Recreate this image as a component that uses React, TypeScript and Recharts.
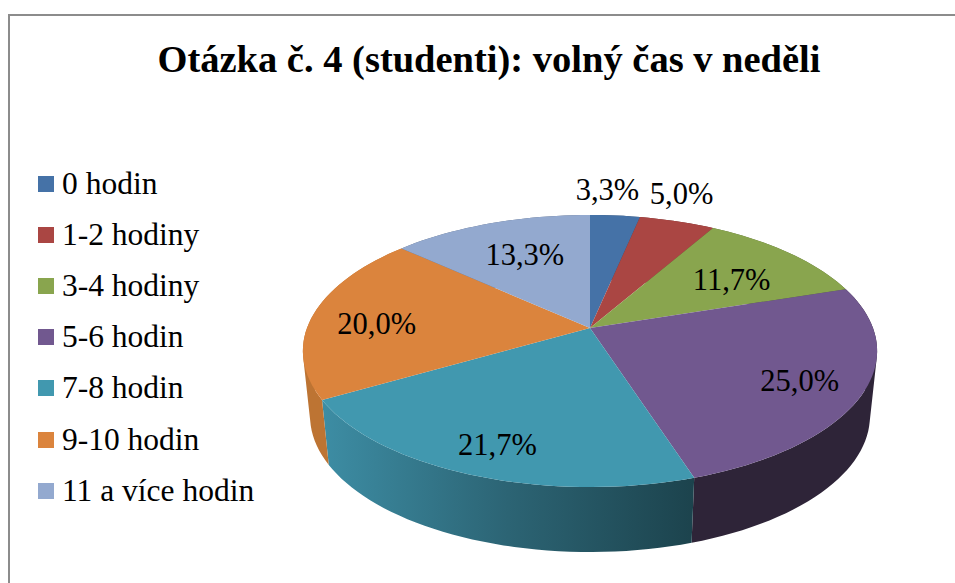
import { PieChart, Pie, Cell, Legend } from "recharts";

const categories = ["0 hodin", "1-2 hodiny", "3-4 hodiny", "5-6 hodin", "7-8 hodin", "9-10 hodin", "11 a více hodin"];
const shares = [3.3, 5.0, 11.7, 25.0, 21.7, 20.0, 13.3];
const topColors = ["#4572A7", "#AA4643", "#89A54E", "#71588F", "#4198AF", "#DB843D", "#93A9CF"];
const wallColors = ["#2f4a6b", "#6b2c2a", "#566832", "#2e2438", "url(#tealWall)", "url(#orangeWall)", "#5d6b83"];
// nudges from the default label spot, Excel places these by hand
const labelNudges = [[-2, -50], [24, -51], [-11, 10], [9, 5], [-6, 12], [-5, 6], [12, 8]];

const data = categories.map((name, i) => ({ name, value: shares[i] }));

const WIDTH = 955;
const HEIGHT = 583;
const LEGEND_WIDTH = 260; // recharts pushes the plot area right by this much
const CX = 590 - LEGEND_WIDTH;
const CY = 328;
const RADIUS = 283;

// the tilted disc in the reference has perspective, so project the circle
const TILT = 0.467;
const PERSPECTIVE = 0.169;
const DEPTH = 65;
const BASE_SCALE = 0.975;

const RAD = Math.PI / 180;

type Pt = { x: number; y: number };

const project = (cx: number, cy: number, r: number, angle: number, t = 1): Pt => {
  const u = Math.cos(angle * RAD) * t;
  const v = Math.sin(angle * RAD) * t;
  const w = 1 + PERSPECTIVE * v;
  return { x: cx + (r * u) / w, y: cy - (r * TILT * v) / w };
};

const rimPoints = (props: any) => {
  const { cx, cy, outerRadius, startAngle, endAngle } = props;
  const steps = Math.max(2, Math.ceil(Math.abs(endAngle - startAngle) / 2));
  const pts: Pt[] = [];
  for (let i = 0; i <= steps; i++) {
    pts.push(project(cx, cy, outerRadius, startAngle + ((endAngle - startAngle) * i) / steps));
  }
  return pts;
};

const toPath = (pts: Pt[]) =>
  "M" + pts.map((p) => `${p.x.toFixed(2)},${p.y.toFixed(2)}`).join("L") + "Z";

const signedArea = (pts: Pt[]) =>
  pts.reduce((sum, p, i) => {
    const q = pts[(i + 1) % pts.length];
    return sum + p.x * q.y - q.x * p.y;
  }, 0);

const TopSlice = (props: any) => {
  const pts = [{ x: props.cx, y: props.cy }, ...rimPoints(props)];
  return <path d={toPath(pts)} fill={props.fill} stroke="none" />;
};

// one quad per rim step, all wound the same way, so the silhouette at the
// sides of the disc stays filled
const WallSlice = (props: any) => {
  const top = rimPoints(props);
  const bottom = top.map((p) => ({ x: props.cx + (p.x - props.cx) * BASE_SCALE, y: p.y + DEPTH }));
  let d = "";
  for (let i = 0; i < top.length - 1; i++) {
    const quad = [top[i], top[i + 1], bottom[i + 1], bottom[i]];
    d += toPath(signedArea(quad) < 0 ? quad.reverse() : quad);
  }
  return <path d={d} fill={props.fill} stroke="none" />;
};

const renderLabel = (props: any) => {
  const { cx, cy, outerRadius, midAngle, value, index } = props;
  const p = project(cx, cy, outerRadius, midAngle, 0.75);
  return (
    <text
      x={p.x + labelNudges[index][0]}
      y={p.y + labelNudges[index][1]}
      textAnchor="middle"
      dominantBaseline="central"
      fontFamily="'Liberation Serif'"
      fontSize={30.5}
      fill="#000"
    >
      {value.toFixed(1).replace(".", ",") + "%"}
    </text>
  );
};

const LegendList = () => (
  <div>
    {categories.map((name, i) => (
      <div key={name} style={{ height: 51.1, display: "flex", alignItems: "center", whiteSpace: "nowrap" }}>
        <span style={{ width: 16, height: 16, background: topColors[i], marginRight: 8 }} />
        <span style={{ fontFamily: "'Liberation Serif'", fontSize: 31.5, color: "#000" }}>{name}</span>
      </div>
    ))}
  </div>
);

export default function App() {
  return (
    <div style={{ position: "absolute", left: 0, top: 0, width: WIDTH, height: HEIGHT, background: "#fff", overflow: "hidden" }}>
      <div
        style={{
          position: "absolute",
          left: 8,
          top: 14,
          width: 960,
          height: 600,
          border: "2px solid #8c8c8c",
          boxSizing: "border-box",
        }}
      />
      <div
        style={{
          position: "absolute",
          left: 0,
          top: 36,
          width: 978,
          textAlign: "center",
          fontFamily: "'Liberation Serif'",
          fontWeight: "bold",
          fontSize: 38.5,
          lineHeight: "46px",
          color: "#000",
        }}
      >
        Otázka č. 4 (studenti): volný čas v neděli
      </div>
      <PieChart
        width={WIDTH}
        height={HEIGHT}
        margin={{ top: 0, right: 0, bottom: 0, left: 0 }}
        style={{ position: "absolute", left: 0, top: 0 }}
      >
        <defs>
          <linearGradient id="tealWall" x1="0" y1="0" x2="1" y2="0">
            <stop offset="0" stopColor="#3d8da4" />
            <stop offset="0.5" stopColor="#2c6474" />
            <stop offset="1" stopColor="#1c434d" />
          </linearGradient>
          <linearGradient id="orangeWall" x1="0" y1="0" x2="1" y2="0">
            <stop offset="0" stopColor="#bd7433" />
            <stop offset="1" stopColor="#bd7433" />
          </linearGradient>
        </defs>
        <Pie
          data={data}
          dataKey="value"
          nameKey="name"
          cx={CX}
          cy={CY}
          outerRadius={RADIUS}
          startAngle={90}
          endAngle={-270}
          legendType="none"
          shape={WallSlice}
          isAnimationActive={false}
        >
          {data.map((entry, i) => (
            <Cell key={entry.name} fill={wallColors[i]} />
          ))}
        </Pie>
        <Pie
          data={data}
          dataKey="value"
          nameKey="name"
          cx={CX}
          cy={CY}
          outerRadius={RADIUS}
          startAngle={90}
          endAngle={-270}
          shape={TopSlice}
          label={renderLabel}
          labelLine={false}
          isAnimationActive={false}
        >
          {data.map((entry, i) => (
            <Cell key={entry.name} fill={topColors[i]} />
          ))}
        </Pie>
        <Legend
          layout="vertical"
          align="left"
          verticalAlign="top"
          content={<LegendList />}
          wrapperStyle={{ left: 38, top: 158.5, width: LEGEND_WIDTH }}
        />
      </PieChart>
    </div>
  );
}
